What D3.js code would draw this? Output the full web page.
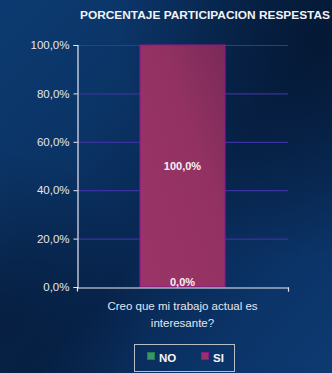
<!DOCTYPE html>
<html><head><meta charset="utf-8">
<script src="https://cdn.jsdelivr.net/npm/d3@7"></script>
<style>html,body{margin:0;padding:0;background:#0a2e5c;}svg{display:block;}</style>
</head><body>
<svg id="c" width="332" height="373"></svg>
<script>
const title = "PORCENTAJE PARTICIPACION RESPESTAS";
const categories = ["Creo que mi trabajo actual es interesante?"];
const categoryLines = [["Creo que mi trabajo actual es", "interesante?"]];
const seriesNames = ["NO", "SI"];
const seriesColors = ["#339966", "#993366"];
const seriesBorders = ["#2a7a50", "#8a1a8a"];
const valuesNO = [0.0];
const valuesSI = [100.0];
const yTicks = [0, 20, 40, 60, 80, 100];

const svg = d3.select("#c");
const W = 332, H = 373;
const defs = svg.append("defs");
const bg = defs.append("linearGradient").attr("id","bg").attr("x1","0").attr("y1","0").attr("x2","1").attr("y2","1");
bg.append("stop").attr("offset","0%").attr("stop-color","#0c3a70");
bg.append("stop").attr("offset","30%").attr("stop-color","#0b3466");
bg.append("stop").attr("offset","55%").attr("stop-color","#082650");
bg.append("stop").attr("offset","80%").attr("stop-color","#0b3468");
bg.append("stop").attr("offset","100%").attr("stop-color","#0d3a72");
const bg2 = defs.append("radialGradient").attr("id","bg2").attr("cx","0.95").attr("cy","0.1").attr("r","0.6");
bg2.append("stop").attr("offset","0%").attr("stop-color","#041630").attr("stop-opacity",0.85);
bg2.append("stop").attr("offset","100%").attr("stop-color","#041630").attr("stop-opacity",0);
const bg3 = defs.append("radialGradient").attr("id","bg3").attr("cx","0.0").attr("cy","0.85").attr("r","0.45");
bg3.append("stop").attr("offset","0%").attr("stop-color","#041630").attr("stop-opacity",0.6);
bg3.append("stop").attr("offset","100%").attr("stop-color","#041630").attr("stop-opacity",0);
const barG = defs.append("linearGradient").attr("id","barG").attr("x1","0").attr("y1","1").attr("x2","1").attr("y2","0");
barG.append("stop").attr("offset","0%").attr("stop-color","#9b3468");
barG.append("stop").attr("offset","60%").attr("stop-color","#933262");
barG.append("stop").attr("offset","100%").attr("stop-color","#7a2a58");

svg.append("rect").attr("width",W).attr("height",H).attr("fill","url(#bg)");
svg.append("rect").attr("width",W).attr("height",H).attr("fill","url(#bg2)");
svg.append("rect").attr("width",W).attr("height",H).attr("fill","url(#bg3)");

const plot = {left:77, right:288, top:45, bottom:287};
const y = d3.scaleLinear().domain([0,100]).range([plot.bottom, plot.top]);
const x = d3.scaleBand().domain(categories).range([plot.left, plot.right]).paddingInner(0);
x.paddingOuter((211-86)/2/86);

// gridlines
svg.append("g").selectAll("line").data(yTicks.filter(d=>d>0)).join("line")
  .attr("x1",plot.left).attr("x2",plot.right)
  .attr("y1",d=>y(d)+0.5).attr("y2",d=>y(d)+0.5)
  .attr("stroke","#3a32a0").attr("stroke-width",1.2);

// stacked bars
const stackData = categories.map((c,i)=>({cat:c, NO:valuesNO[i], SI:valuesSI[i]}));
const stack = d3.stack().keys(seriesNames)(stackData);
const bw = x.bandwidth();
stack.forEach((layer, si) => {
  svg.append("g").selectAll("rect").data(layer).join("rect")
    .attr("x", d=>x(d.data.cat)+0.5)
    .attr("y", d=>y(d[1]))
    .attr("width", bw-1)
    .attr("height", d=>Math.max(0, y(d[0])-y(d[1])))
    .attr("fill", si===1 ? "url(#barG)" : seriesColors[si])
    .attr("stroke", seriesBorders[si]).attr("stroke-width",1.2);
});

// y axis
const yAxis = d3.axisLeft(y).tickValues(yTicks).tickSize(4).tickPadding(4)
  .tickFormat(d=>d3.format(".1f")(d).replace(".",",")+"%");
const ya = svg.append("g").attr("transform",`translate(${plot.left+0.5},0)`).call(yAxis);
ya.select(".domain").attr("stroke","#e8e8f0").attr("stroke-width",1.2);
ya.selectAll(".tick line").attr("stroke","#e8e8f0");
ya.selectAll(".tick text").attr("fill","#e4e6ee").attr("font-family","Liberation Sans, Arial, sans-serif").attr("font-size","11.5px");

// x axis
const xa = svg.append("g").attr("transform",`translate(0,${plot.bottom+0.5})`)
  .call(d3.axisBottom(d3.scaleLinear().domain([0,1]).range([plot.left, plot.right])).tickValues([1]).tickSize(4).tickFormat(""));
xa.select(".domain").attr("stroke","#f0f0f4").attr("stroke-width",1.2);
xa.selectAll(".tick line").attr("stroke","#e0e0e8");

// data labels
stack.forEach((layer, si) => {
  svg.append("g").selectAll("text").data(layer).join("text")
    .attr("x", d=>x(d.data.cat)+bw/2)
    .attr("y", d=>Math.min((y(d[0])+y(d[1]))/2 + 4, plot.bottom - 1))
    .attr("text-anchor","middle")
    .attr("fill","#f4f0f6").attr("font-weight","bold")
    .attr("font-family","Liberation Sans, Arial, sans-serif").attr("font-size","11px")
    .text(d=>d3.format(".1f")(d[1]-d[0]).replace(".",",")+"%");
});

// category label
const cl = svg.append("text").attr("text-anchor","middle")
  .attr("font-family","Liberation Sans, Arial, sans-serif").attr("font-size","11.5px").attr("fill","#e4e6ee");
categoryLines[0].forEach((t,i)=>{
  cl.append("tspan").attr("x", x(categories[0])+bw/2).attr("y", 310+i*16.5).text(t);
});

// title
svg.append("text").attr("x",205).attr("y",19).attr("text-anchor","middle")
  .attr("font-family","Liberation Sans, Arial, sans-serif").attr("font-weight","bold").attr("font-size","10.5px")
  .attr("fill","#f2f2f6").attr("textLength",250).attr("lengthAdjust","spacingAndGlyphs").text(title);

// legend
const lg = svg.append("g");
lg.append("rect").attr("x",134.5).attr("y",344.5).attr("width",100).attr("height",27)
  .attr("fill","none").attr("stroke","#b8bcc8").attr("stroke-width",1);
const lx = [147, 201];
seriesNames.forEach((n,i)=>{
  lg.append("rect").attr("x",lx[i]+0.5).attr("y",352.5).attr("width",7).attr("height",7)
    .attr("fill",seriesColors[i]).attr("stroke",seriesBorders[i]);
  lg.append("text").attr("x",lx[i]+12).attr("y",361.5)
    .attr("font-family","Liberation Sans, Arial, sans-serif").attr("font-weight","bold").attr("font-size","11.5px")
    .attr("fill","#f4f4f8").text(n);
});
</script>
</body></html>
